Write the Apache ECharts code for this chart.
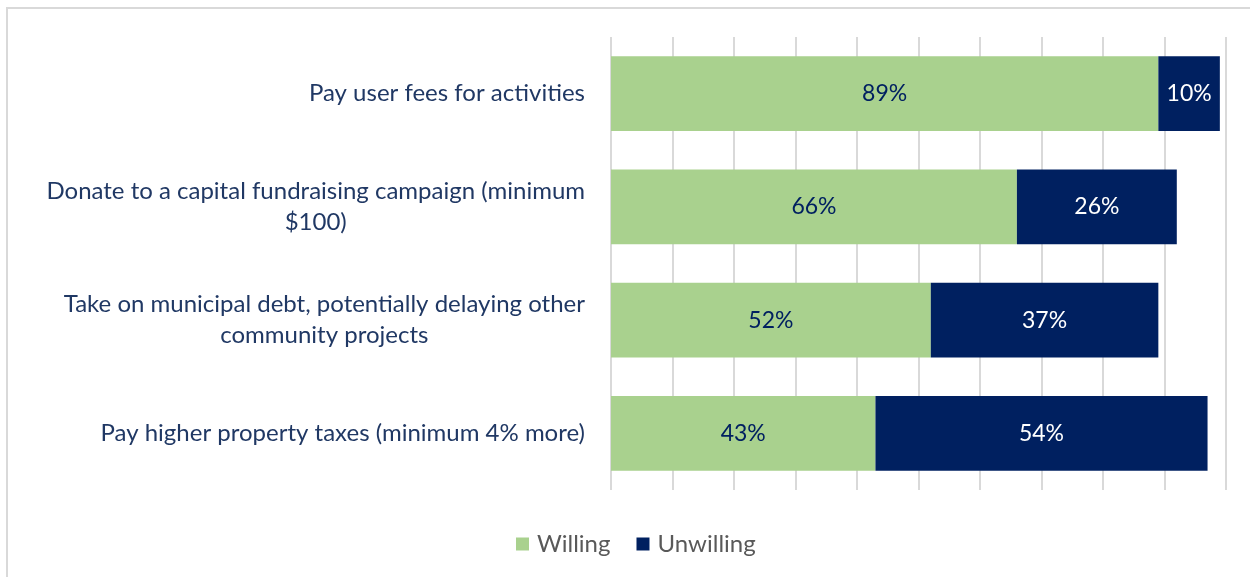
<!DOCTYPE html>
<html>
<head>
<meta charset="utf-8">
<script src="https://cdn.jsdelivr.net/npm/echarts@6/dist/echarts.min.js"></script>
<style>
  html, body { margin: 0; padding: 0; background: #fff; }
  #box { position: absolute; left: 6px; top: 7px; width: 1250px; height: 577px; border-left: 2px solid #d9d9d9; border-top: 2px solid #d9d9d9; box-sizing: border-box; }
  #chart { width: 1250px; height: 577px; }
</style>
</head>
<body>
<div id="box"></div>
<div id="chart"></div>
<script>
// categories, top to bottom
var categories = [
  "Pay user fees for activities",
  "Donate to a capital fundraising campaign (minimum\n$100)",
  "Take on municipal debt, potentially delaying other\ncommunity projects",
  "Pay higher property taxes (minimum 4% more)"
];
var willing = [89, 66, 52, 43];
var unwilling = [10, 26, 37, 54];
var seriesNames = ["Willing", "Unwilling"];

var fontFamily = "Lato, 'Open Sans', sans-serif";
var navy = "#002060";
var green = "#a9d18e";

var chart = echarts.init(document.getElementById("chart"));
var option = {
  animation: false,
  grid: {
    left: 611,
    right: 24,
    top: 37,
    bottom: 87
  },
  legend: {
    bottom: 16,
    left: 511,
    icon: "rect",
    itemWidth: 13,
    itemHeight: 13,
    itemGap: 26,
    textStyle: { color: "#595959", fontSize: 24, fontFamily: fontFamily, padding: [0, 0, 0, 3] },
    data: seriesNames
  },
  xAxis: {
    type: "value",
    min: 0,
    max: 100,
    interval: 10,
    axisLabel: { show: false },
    axisLine: { show: false },
    axisTick: { show: false },
    splitLine: { show: true, lineStyle: { color: "#d9d9d9", width: 2 } }
  },
  yAxis: {
    type: "category",
    inverse: true,
    data: categories,
    axisLine: { show: false },
    axisTick: { show: false },
    axisLabel: {
      margin: 26,
      align: "right",
      color: "#203864",
      fontSize: 24,
      fontFamily: fontFamily,
      lineHeight: 31,
      formatter: function (v) {
        return v.split("\n").map(function (s) { return "{c|" + s + "}"; }).join("\n");
      },
      rich: {
        c: { align: "center", color: "#203864", fontSize: 24, fontFamily: fontFamily, lineHeight: 31 }
      }
    }
  },
  series: [
    {
      name: seriesNames[0],
      type: "bar",
      stack: "total",
      barWidth: "66%",
      itemStyle: { color: green },
      label: {
        show: true,
        position: "inside",
        formatter: "{c}%",
        color: navy,
        fontSize: 23,
        fontFamily: fontFamily
      },
      data: willing
    },
    {
      name: seriesNames[1],
      type: "bar",
      stack: "total",
      barWidth: "66%",
      itemStyle: { color: navy },
      label: {
        show: true,
        position: "inside",
        formatter: "{c}%",
        color: "#ffffff",
        fontSize: 23,
        fontFamily: fontFamily
      },
      data: unwilling
    }
  ]
};
chart.setOption(option);
</script>
</body>
</html>
